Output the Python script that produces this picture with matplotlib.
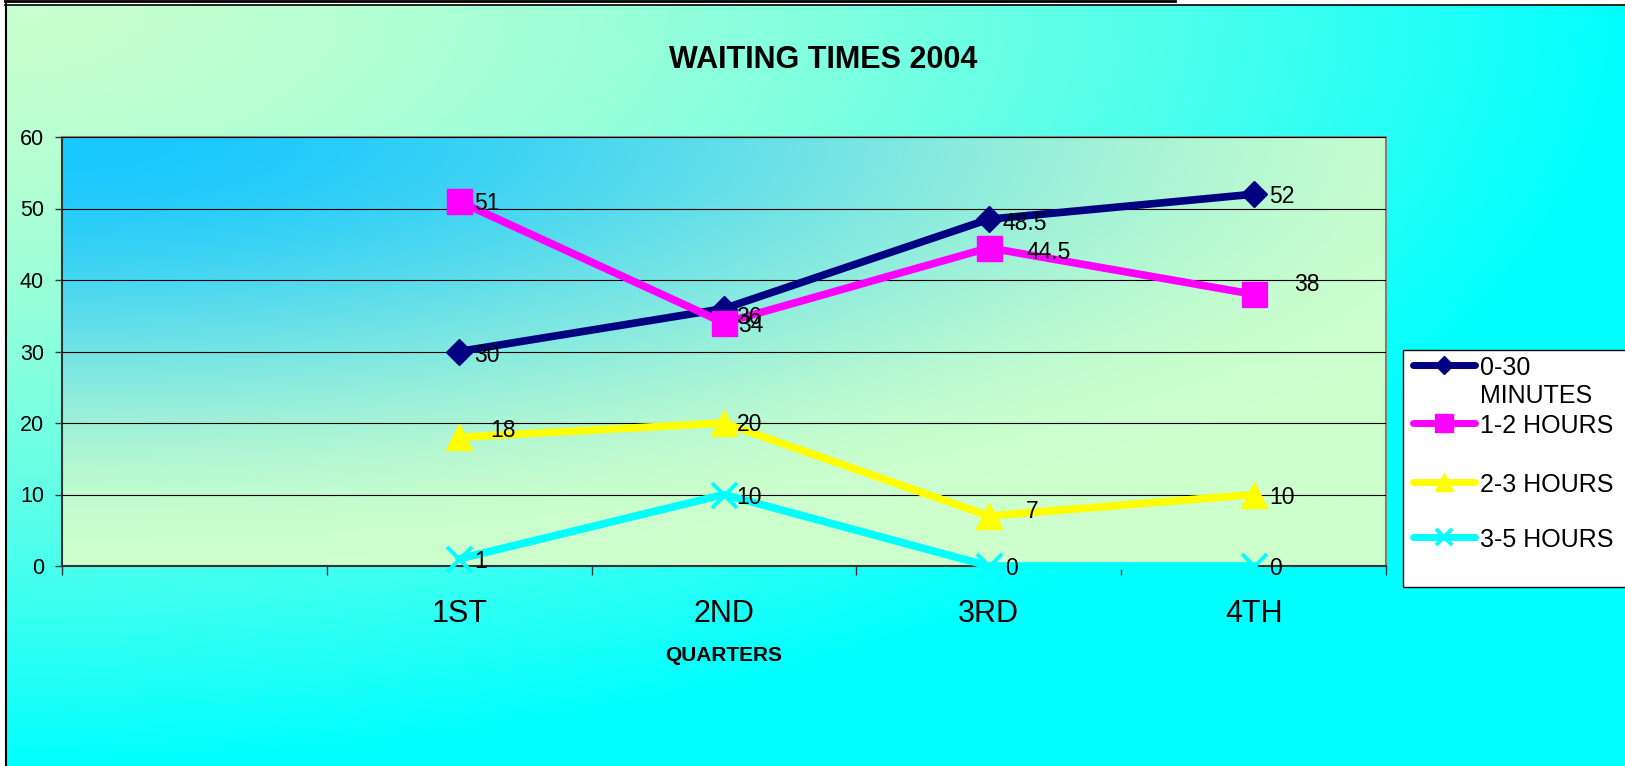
import numpy as np
import matplotlib
matplotlib.use("Agg")
import matplotlib.pyplot as plt
from matplotlib.lines import Line2D
from matplotlib.patches import Rectangle

plt.rcParams["font.family"] = ["Liberation Sans", "DejaVu Sans"]

# ---- data -------------------------------------------------------------
QUARTERS = ["", "1ST", "2ND", "3RD", "4TH"]   # first slot is left empty
MIN_0_30 = [None, 30, 36, 48.5, 52]
HRS_1_2 = [None, 51, 34, 44.5, 38]
HRS_2_3 = [None, 18, 20, 7, 10]
HRS_3_5 = [None, 1, 10, 0, 0]
SERIES = [MIN_0_30, HRS_1_2, HRS_2_3, HRS_3_5]
NAMES = ["0-30\nMINUTES", "1-2 HOURS", "2-3 HOURS", "3-5 HOURS"]
Y_TICKS = [0, 10, 20, 30, 40, 50, 60]

# ---- look -------------------------------------------------------------
STYLES = [
    dict(color="#000080", marker="D", ms=13, mew=1),
    dict(color="#FF00FF", marker="s", ms=18, mew=1),
    dict(color="#FFFF00", marker="^", ms=19, mew=1),
    dict(color="#00FFFF", marker="x", ms=18, mew=2.8),
]
LEGEND_MS = [9, 12.5, 13, 12]
# pixel nudges for the data labels (dx, dy) - Excel pushed some aside
NUDGE = [
    [None, (15, -2), (12, -6), (14, -2), (15, 0)],
    [None, (15, 0), (14, 0), (38, -2), (40, 12)],
    [None, (31, 9), (13, 1), (37, 7), (16, 0)],
    [None, (15, 0), (12, 0), (16, 0), (16, 0)],
]

W, H = 1625, 766
PX = 72 / 100  # points per pixel at dpi 100

fig = plt.figure(figsize=(W / 100, H / 100), dpi=100, facecolor="white")

# outer chart-area gradient (light green top-left -> cyan)
bg = fig.add_axes([7 / W, 0, 1 - 7 / W, 1 - 5 / H], zorder=-10)
bg.axis("off")
gx, gy = np.meshgrid(np.linspace(0, 1, 400), np.linspace(0, 1, 200))
t = np.clip(np.hypot(gx, gy), 0, 1) ** 1.5
green = np.array([200, 255, 206]) / 255
cyan = np.array([0, 255, 255]) / 255
bg.imshow(green * (1 - t[..., None]) + cyan * t[..., None], aspect="auto",
          extent=[0, 1, 0, 1], origin="upper", interpolation="bilinear")

# frame lines of the old Excel chart object
fig.add_artist(Line2D([5 / W, 1175 / W], [1 - 1.3 / H] * 2, color="black", lw=2.0))
fig.add_artist(Line2D([5 / W, 1], [1 - 4.5 / H] * 2, color="black", lw=1.2))
fig.add_artist(Line2D([6 / W] * 2, [0, 1 - 4 / H], color="black", lw=1.5))

# plot area: deep sky blue in the top-left corner fading to pale green
ax = fig.add_axes([62 / W, 200 / H, 1324 / W, 429 / H])
px_, py_ = np.meshgrid(np.linspace(0, 1, 400), np.linspace(0, 1, 200))
r = np.clip(np.hypot(px_ / 1.15, py_), 0, 1)
b = 1 - r * r * (3 - 2 * r)   # smoothstep falloff
blue = np.array([25, 200, 254]) / 255
pgreen = np.array([204, 255, 204]) / 255
ax.imshow(blue * b[..., None] + pgreen * (1 - b[..., None]), aspect="auto",
          extent=[0, 1, 0, 1], transform=ax.transAxes, origin="upper",
          interpolation="bilinear", zorder=0)

x = np.arange(len(QUARTERS))
for vals, st in zip(SERIES, STYLES):
    ax.plot(x, np.array(vals, dtype=float), color=st["color"], lw=5.5,
            marker=st["marker"], ms=st["ms"], mfc=st["color"], mec=st["color"],
            mew=st["mew"], clip_on=False, zorder=3)

for vals, nudge in zip(SERIES, NUDGE):
    for xi, v, nd in zip(x, vals, nudge):
        if v is None:
            continue
        ax.annotate(f"{v:g}", (xi, v), xytext=(nd[0] * PX, nd[1] * PX),
                    textcoords="offset points", ha="left", va="center_baseline",
                    fontsize=16.5, color="black", zorder=5, annotation_clip=False)

ax.set_xlim(-0.5, len(QUARTERS) - 0.5)
ax.set_ylim(0, 60)
ax.set_xticks(np.arange(-0.5, len(QUARTERS), 1))
ax.set_xticklabels([])
ax.set_xticks(x, minor=True)
ax.set_xticklabels(QUARTERS, minor=True, fontsize=22)
ax.tick_params(axis="x", which="major", direction="out", length=6.5, width=1, color="#333333")
ax.tick_params(axis="x", which="minor", length=0, pad=24)
ax.set_yticks(Y_TICKS)
ax.tick_params(axis="y", length=5, width=1, color="#333333", pad=8, labelsize=15.5)
ax.grid(axis="y", color="black", lw=0.8)
ax.set_axisbelow(False)
for side in ["left", "bottom"]:
    ax.spines[side].set_color("#333333")
    ax.spines[side].set_linewidth(1.5)
for side in ["top", "right"]:
    ax.spines[side].set_color("#808080")
    ax.spines[side].set_linewidth(1.5)

ax.set_xlabel("QUARTERS", fontsize=15, fontweight="bold")
ax.xaxis.set_label_coords(0.5, -0.186)

fig.text(823 / W, 1 - 67.5 / H, "WAITING TIMES 2004", ha="center", va="baseline",
         fontsize=22, fontweight="bold")

# legend, drawn by hand so the two-line first entry sits like the original
fig.add_artist(Rectangle((1403 / W, 1 - 587 / H), 240 / W, 237 / H,
                         transform=fig.transFigure, facecolor="white",
                         edgecolor="black", lw=1, clip_on=False))
rows = [365, 423, 482, 537]
for name, st, ms, ry in zip(NAMES, STYLES, LEGEND_MS, rows):
    yy = 1 - ry / H
    fig.add_artist(Line2D([1413 / W, 1475 / W], [yy, yy], color=st["color"], lw=5,
                          solid_capstyle="round"))
    fig.add_artist(Line2D([1444 / W], [yy], color=st["color"], marker=st["marker"],
                          ms=ms, mfc=st["color"], mec=st["color"], mew=st["mew"], lw=0))
    fig.text(1480 / W, 1 - (ry - 9) / H, name, ha="left", va="top", fontsize=18,
             linespacing=1.22)

fig.savefig("out.png", dpi=100, facecolor=fig.get_facecolor())
